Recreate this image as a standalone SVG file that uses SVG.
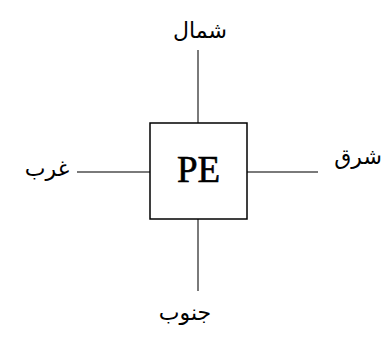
<svg xmlns="http://www.w3.org/2000/svg" width="391" height="338" viewBox="0 0 391 338">
<style>
.c{stroke:#7a7a7a;stroke-width:2;fill:none}
.lbl{font-family:"DejaVu Sans","Noto Sans",sans-serif;font-size:22px;fill:#000;text-anchor:middle;dominant-baseline:central}
</style>
<rect width="391" height="338" fill="#fff"/>
<g id="connectors">
<line class="c" x1="198" y1="50" x2="198" y2="123"/>
<line class="c" x1="198" y1="219" x2="198" y2="291"/>
<line class="c" x1="77" y1="172" x2="150" y2="172"/>
<line class="c" x1="247" y1="172" x2="318" y2="172"/>
</g>
<g id="pe">
<rect x="150" y="123" width="97" height="96" fill="#fff" stroke="#000" stroke-width="1.5"/>
<text x="198.5" y="182" font-family="Liberation Serif,serif" font-size="37" text-anchor="middle" stroke="#000" stroke-width="0.6">PE</text>
</g>
<g id="north"><text class="lbl" x="200" y="30">شمال</text></g>
<g id="south"><text class="lbl" x="185" y="312">جنوب</text></g>
<g id="west"><text class="lbl" x="47" y="168">غرب</text></g>
<g id="east"><text class="lbl" x="358" y="156">شرق</text></g>
</svg>
